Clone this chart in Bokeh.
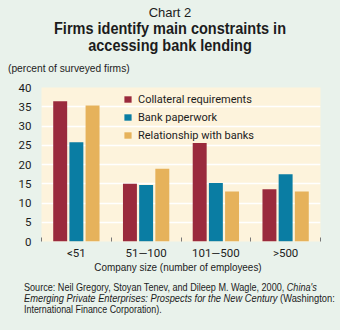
from bokeh.plotting import figure
from bokeh.models import ColumnDataSource, FixedTicker, Legend, LegendItem, Div
from bokeh.layouts import column
from bokeh.embed import file_html
from bokeh.resources import INLINE

# ---- data ----
categories = ["<51", "51\u2014100", "101\u2014500", ">500"]
series_names = ["Collateral requirements", "Bank paperwork", "Relationship with banks"]
collateral = [36.4, 15.0, 25.6, 13.6]
paperwork = [25.8, 14.7, 15.2, 17.5]
relationship = [35.3, 18.9, 13.0, 13.0]
y_ticks = [0, 5, 10, 15, 20, 25, 30, 35, 40]
x_title = "Company size (number of employees)"

colors = ["#9A2A3D", "#0A7DA3", "#E6B25B"]
SVG_FONT = "Roboto"
HTML_FONT = "'Liberation Sans', Arial, sans-serif"
TXT = "#1c1c1c"
BG = "#E9F2EB"

W = 340
TOP_H = 76          # header div
FIG_H = 186         # figure
BOT_H = 330 - TOP_H - FIG_H
FL, FR = 41, 320    # frame x edges (px)
FT, FB = 11, 166    # frame y edges within figure (px)
YMAX = 40

p = figure(width=W, height=FIG_H, output_backend="svg", toolbar_location=None,
           x_range=(0, len(categories)), y_range=(0, YMAX),
           min_border_left=FL, min_border_right=W - FR,
           min_border_top=FT, min_border_bottom=FIG_H - FB)
p.background_fill_color = "#FDF3DC"
p.border_fill_color = BG
p.outline_line_color = None

p.xgrid.grid_line_color = None
p.ygrid.ticker = FixedTicker(ticks=y_ticks)
p.ygrid.grid_line_color = "white"
p.ygrid.grid_line_width = 1.5

p.yaxis.ticker = FixedTicker(ticks=y_ticks)
p.yaxis.axis_line_color = None
p.yaxis.major_tick_line_color = None
p.yaxis.major_tick_out = 0
p.yaxis.major_tick_in = 0
p.yaxis.minor_tick_line_color = None
p.yaxis.major_label_standoff = 10
p.yaxis.major_label_text_font = SVG_FONT
p.yaxis.major_label_text_font_size = "11.5px"
p.yaxis.major_label_text_color = TXT

centers = [i + 0.5 for i in range(len(categories))]
bounds = [float(i) for i in range(len(categories) + 1)]
p.xaxis.ticker = FixedTicker(ticks=centers, minor_ticks=bounds)
p.xaxis.major_label_overrides = {c: lab for c, lab in zip(centers, categories)}
p.xaxis.axis_line_color = None
p.xaxis.major_tick_line_color = None
p.xaxis.major_tick_out = 0
p.xaxis.major_tick_in = 0
p.xaxis.minor_tick_in = 4
p.xaxis.minor_tick_out = 0
p.xaxis.minor_tick_line_color = "#777777"
p.xaxis.major_label_standoff = 4
p.xaxis.major_label_text_font = SVG_FONT
p.xaxis.major_label_text_font_size = "11.5px"
p.xaxis.major_label_text_color = TXT

offsets = [-0.232, 0.0, 0.232]
bar_w = 0.2
renderers = []
for vals, off, col in zip([collateral, paperwork, relationship], offsets, colors):
    src = ColumnDataSource(dict(x=[c + off for c in centers], top=vals))
    r = p.vbar(x="x", top="top", width=bar_w, bottom=0, source=src,
               fill_color=col, line_color=None)
    renderers.append(r)

legend = Legend(items=[LegendItem(label=n, renderers=[r]) for n, r in zip(series_names, renderers)],
                location=(82, (FB - FT) - 4 - 54), orientation="vertical")
legend.background_fill_alpha = 0
legend.border_line_color = None
legend.padding = 0
legend.margin = 0
legend.spacing = 0
legend.glyph_width = 9
legend.glyph_height = 8
legend.label_height = 18
legend.label_standoff = 6
legend.label_text_font = SVG_FONT
legend.label_text_font_size = "11px"
legend.label_text_color = TXT
p.add_layout(legend, "center")


def line(text, center_y, size, lh, left=None, bold=False, squeeze=1.0, cx=170):
    top = center_y - lh / 2
    if left is not None:
        pos = f"left:{left}px;"
        origin = "left center"
    else:
        pos = f"left:{cx - 170}px;width:340px;text-align:center;"
        origin = "center"
    weight = "bold" if bold else "normal"
    tr = f"transform:scaleX({squeeze});transform-origin:{origin};" if squeeze != 1.0 else ""
    return (f'<div style="position:absolute;top:{top}px;{pos}font-size:{size}px;'
            f'line-height:{lh}px;font-weight:{weight};white-space:nowrap;{tr}">{text}</div>')


head_html = (f'<div style="position:relative;width:{W}px;height:{TOP_H}px;font-family:{HTML_FONT};color:{TXT};">'
             + line("Chart 2", 12, 13, 15)
             + line("Firms identify main constraints in", 29, 16, 16, bold=True, squeeze=0.906)
             + line("accessing bank lending", 45.5, 16, 16, bold=True, squeeze=0.906)
             + line("(percent of surveyed firms)", 68, 11, 12, left=8, squeeze=0.93)
             + '</div>')

off = TOP_H + FIG_H
src_html = (f'<div style="position:relative;width:{W}px;height:{BOT_H}px;overflow:hidden;'
            f'font-family:{HTML_FONT};color:{TXT};">'
            + line(x_title, 267 - off, 11, 10, squeeze=0.9, cx=178)
            + line("Source: Neil Gregory, Stoyan Tenev, and Dileep M. Wagle, 2000, <i>China's</i>",
                   287 - off, 11, 11, left=24, squeeze=0.826)
            + line("<i>Emerging Private Enterprises: Prospects for the New Century</i> (Washington:",
                   298 - off, 11, 11, left=24, squeeze=0.848)
            + line("International Finance Corporation).", 309 - off, 11, 11, left=24, squeeze=0.81)
            + '</div>')

head = Div(text=head_html, width=W, height=TOP_H, margin=0,
           styles={"background-color": BG})
foot = Div(text=src_html, width=W, height=BOT_H, margin=0,
           styles={"background-color": BG})

layout = column(head, p, foot, spacing=0, margin=0, styles={"background-color": BG})

open("out.html", "w").write(file_html(layout, INLINE))
